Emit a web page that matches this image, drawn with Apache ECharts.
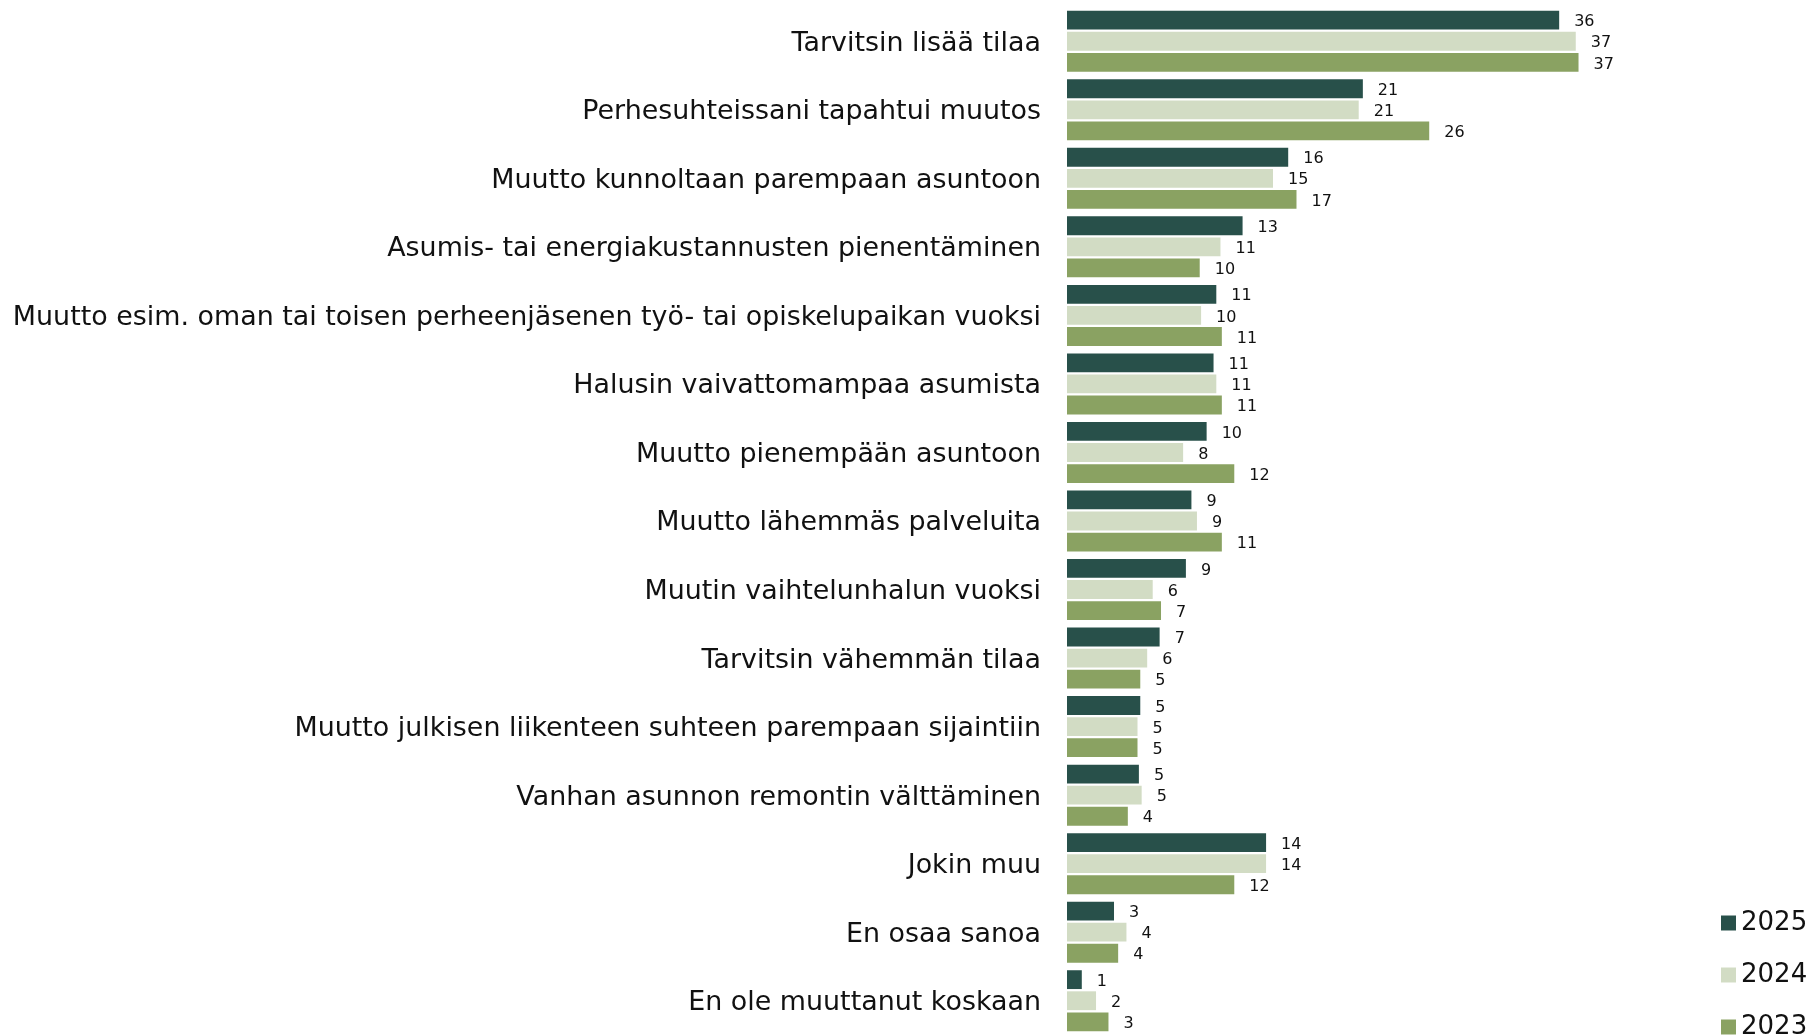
<!DOCTYPE html>
<html>
<head>
<meta charset="utf-8">
<script src="https://cdn.jsdelivr.net/npm/echarts@6/dist/echarts.min.js"></script>
<style>
html,body{margin:0;padding:0;background:#fff;}
#main{width:1812px;height:1035px;}
</style>
</head>
<body>
<div id="main"></div>
<script>
var categories = [
  'Tarvitsin lisää tilaa',
  'Perhesuhteissani tapahtui muutos',
  'Muutto kunnoltaan parempaan asuntoon',
  'Asumis- tai energiakustannusten pienentäminen',
  'Muutto esim. oman tai toisen perheenjäsenen työ- tai opiskelupaikan vuoksi',
  'Halusin vaivattomampaa asumista',
  'Muutto pienempään asuntoon',
  'Muutto lähemmäs palveluita',
  'Muutin vaihtelunhalun vuoksi',
  'Tarvitsin vähemmän tilaa',
  'Muutto julkisen liikenteen suhteen parempaan sijaintiin',
  'Vanhan asunnon remontin välttäminen',
  'Jokin muu',
  'En osaa sanoa',
  'En ole muuttanut koskaan'
];
var seriesNames = ['2025', '2024', '2023'];
var s2025 = [35.6, 21.4, 16.0, 12.7, 10.8, 10.6, 10.1, 9.0, 8.6, 6.7, 5.3, 5.2, 14.4, 3.4, 1.07];
var s2024 = [36.8, 21.1, 14.9, 11.1, 9.7, 10.8, 8.4, 9.4, 6.2, 5.8, 5.1, 5.4, 14.4, 4.3, 2.1];
var s2023 = [37.0, 26.2, 16.6, 9.6, 11.2, 11.2, 12.1, 11.2, 6.8, 5.3, 5.1, 4.4, 12.1, 3.7, 3.0];
var colors = ['#28504a', '#d2dcc4', '#8aa262'];
var legendTops = [910, 962, 1014];

var myChart = echarts.init(document.getElementById('main'));

function makeSeries(name, data){
  return {
    name: name,
    type: 'bar',
    data: data,
    barGap: '12%',
    barCategoryGap: '11%',
    label: {
      show: true,
      position: 'right',
      distance: 15,
      offset: [0, 2],
      color: '#111',
      fontFamily: 'DejaVu Sans',
      fontSize: 16,
      formatter: function(p){ return Math.round(p.value); }
    }
  };
}

// one legend per year, so the last one can run off the bottom like in the original
function makeLegend(name, top){
  return {
    data: [name],
    orient: 'vertical',
    left: 1721,
    top: top,
    padding: 0,
    icon: 'rect',
    itemWidth: 15,
    itemHeight: 15,
    itemGap: 0,
    textStyle: {
      fontFamily: 'DejaVu Sans',
      fontSize: 26,
      color: '#111'
    }
  };
}

var option = {
  animation: false,
  color: colors,
  grid: {
    left: 1067,
    right: 192,
    top: 7,
    height: 1028
  },
  legend: [
    makeLegend(seriesNames[0], legendTops[0]),
    makeLegend(seriesNames[1], legendTops[1]),
    makeLegend(seriesNames[2], legendTops[2])
  ],
  xAxis: {
    type: 'value',
    min: 0,
    max: 40,
    show: false
  },
  yAxis: {
    type: 'category',
    data: categories,
    inverse: true,
    axisLine: { show: false },
    axisTick: { show: false },
    splitLine: { show: false },
    axisLabel: {
      margin: 26,
      verticalAlign: 'top',
      lineHeight: 5,
      color: '#111',
      fontFamily: 'DejaVu Sans',
      fontSize: 26.9
    }
  },
  series: [
    makeSeries(seriesNames[0], s2025),
    makeSeries(seriesNames[1], s2024),
    makeSeries(seriesNames[2], s2023)
  ]
};
myChart.setOption(option);
</script>
</body>
</html>
